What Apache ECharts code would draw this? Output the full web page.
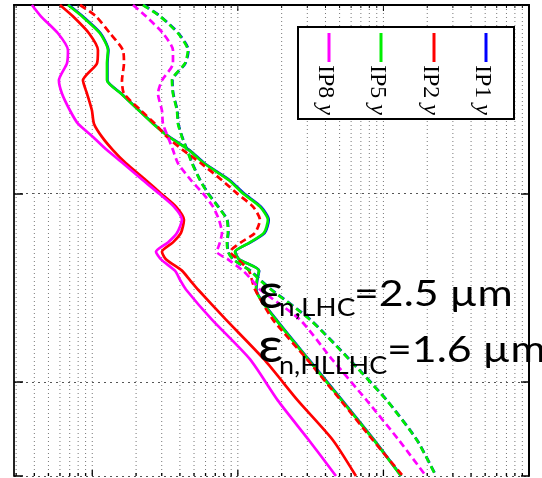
<!DOCTYPE html>
<html>
<head>
<meta charset="utf-8">
<script src="https://cdn.jsdelivr.net/npm/echarts@6/dist/echarts.min.js"></script>
<style>
  html, body { margin: 0; padding: 0; background: #fff; }
  #chart { width: 542px; height: 478px; }
</style>
</head>
<body>
<div id="chart"></div>
<script>
// Vertical positions (independent variable, axis runs top to bottom)
const yLevels = [0, 0.06, 0.15, 0.24, 0.31, 0.40, 0.47, 0.56, 0.63, 0.70, 0.77, 0.84, 0.93, 1.00,
  1.07, 1.14, 1.21, 1.26, 1.31, 1.35, 1.41, 1.46, 1.51, 1.67, 1.88, 2.10, 2.31, 2.50];

// HL-LHC emittance (solid curves)
const ip1Solid = [0.69, 0.86, 1.14, 1.29, 1.27, 1.27, 1.58, 2.10, 2.63, 3.39, 4.65, 5.90, 8.80, 11.0,
  14.4, 16.3, 15.3, 12.2, 9.60, 10.2, 14.0, 13.6, 13.4, 18.4, 30.6, 52.3, 86.5, 132.5];
const ip2Solid = [0.600, 0.736, 0.949, 1.094, 1.077, 0.863, 0.920, 0.995, 1.027, 1.166, 1.387, 1.704, 2.338, 2.964,
  3.757, 4.264, 4.066, 3.584, 3.011, 3.207, 4.130, 4.688, 5.321, 8.287, 15.11, 25.87, 45.01, 64.75];
const ip5Solid = [0.681, 0.850, 1.129, 1.282, 1.262, 1.262, 1.574, 2.093, 2.611, 3.364, 4.614, 5.852, 8.687, 10.84,
  14.19, 16.09, 15.11, 12.11, 9.550, 10.18, 13.96, 13.53, 13.31, 18.27, 30.31, 51.88, 86.09, 131.9];
const ip8Solid = [0.385, 0.444, 0.581, 0.681, 0.670, 0.590, 0.619, 0.703, 0.798, 1.011, 1.262, 1.625, 2.229, 2.872,
  3.640, 4.130, 3.817, 3.311, 2.739, 2.964, 3.698, 4.016, 4.400, 6.638, 12.11, 18.86, 30.79, 47.20];

// LHC emittance (dashed curves)
const ip1Dashed = [2.25, 2.94, 3.91, 4.58, 4.36, 3.55, 3.60, 3.84, 3.90, 4.15, 4.50, 4.87, 5.52, 6.27,
  7.34, 8.46, 8.60, 8.46, 8.60, 9.30, 12.2, 14.3, 17.0, 31.5, 58.3, 106.2, 170.5, 230.0];
const ip2Dashed = [0.824, 1.060, 1.323, 1.625, 1.651, 1.600, 1.651, 2.160, 2.696, 3.258, 4.197, 5.579, 7.778, 9.858,
  12.70, 14.19, 13.10, 10.50, 8.826, 10.02, 11.92, 12.50, 13.10, 17.42, 29.83, 51.07, 84.74, 136.1];
const ip5Dashed = [2.229, 2.917, 3.878, 4.542, 4.332, 3.527, 3.584, 3.817, 3.878, 4.130, 4.471, 4.839, 5.492, 6.232,
  7.300, 8.417, 8.551, 8.417, 8.551, 9.255, 12.11, 14.19, 16.88, 31.28, 57.96, 105.7, 169.9, 229.4];
const ip8Dashed = [1.905, 2.338, 3.059, 3.584, 3.584, 3.011, 2.827, 3.011, 3.059, 3.311, 3.584, 3.878, 4.763, 5.758,
  6.745, 7.418, 7.778, 7.535, 7.187, 8.551, 10.84, 12.50, 14.19, 26.70, 44.30, 77.03, 127.8, 195.9];

// Log-axis grid positions (2..9 within each decade) and decade marks
const gridX = [0.3, 0.4, 0.5, 0.6, 0.7, 0.8, 0.9, 1, 2, 3, 4, 5, 6, 7, 8, 9, 10,
  20, 30, 40, 50, 60, 70, 80, 90, 100, 200, 300, 400, 500, 600, 700, 800, 900];
const decadeX = [1, 10, 100];

const legendNames = ['IP8', 'IP5', 'IP2', 'IP1'];
const legendColors = ['#ff00ff', '#00ee00', '#ff0000', '#0000ff'];

const X_MIN = 0.29, X_MAX = 1000, Y_MIN = 0, Y_MAX = 2.5;

function pairs(xs) { return xs.map((x, i) => [x, yLevels[i]]); }

function curve(name, xs, color, dashed) {
  return {
    name: name, type: 'line', data: pairs(xs), symbol: 'none', silent: true, z: 3,
    smooth: 0.22,
    lineStyle: { color: color, width: 2.7, type: dashed ? [7, 4] : 'solid' },
    animation: false
  };
}

const chart = echarts.init(document.getElementById('chart'), null, { renderer: 'canvas' });

const series = [
  {
    type: 'custom', silent: true, z: 1, animation: false,
    data: gridX.map(v => [v, 0]),
    renderItem: function (params, api) {
      const x = api.value(0);
      const top = api.coord([x, Y_MIN]);
      const bot = api.coord([x, Y_MAX]);
      const tl = decadeX.indexOf(x) >= 0 ? 6 : 3;
      return {
        type: 'group',
        children: [
          { type: 'line', shape: { x1: top[0], y1: top[1], x2: bot[0], y2: bot[1] },
            style: { stroke: '#777', lineWidth: 1, lineDash: [1, 3] } },
          { type: 'line', shape: { x1: bot[0], y1: bot[1], x2: bot[0], y2: bot[1] - tl },
            style: { stroke: '#000', lineWidth: 1.3 } },
          { type: 'line', shape: { x1: top[0], y1: top[1], x2: top[0], y2: top[1] + tl },
            style: { stroke: '#000', lineWidth: 1 } }
        ]
      };
    }
  },
  curve('IP1 y', ip1Solid, '#0000ff', false),
  curve('IP2 y', ip2Solid, '#ff0000', false),
  curve('IP5 y', ip5Solid, '#00ee00', false),
  curve('IP8 y', ip8Solid, '#ff00ff', false),
  curve('IP1 y LHC', ip1Dashed, '#0000ff', true),
  curve('IP2 y LHC', ip2Dashed, '#ff0000', true),
  curve('IP5 y LHC', ip5Dashed, '#00ee00', true),
  curve('IP8 y LHC', ip8Dashed, '#ff00ff', true)
];

// Legend drawn as a boxed, rotated key
const legendGraphics = [
  { type: 'rect', z: 20, shape: { x: 298, y: 27, width: 216, height: 92 },
    style: { fill: '#fff', stroke: '#000', lineWidth: 2 } }
];
const legendX = [329, 381, 434, 486];
legendNames.forEach((n, i) => {
  legendGraphics.push({ type: 'line', z: 21,
    shape: { x1: legendX[i], y1: 33, x2: legendX[i], y2: 62 },
    style: { stroke: legendColors[i], lineWidth: 3 } });
  legendGraphics.push({ type: 'text', z: 21, x: legendX[i] - 4, y: 65, rotation: -Math.PI / 2,
    style: {
      text: '{a|' + n + '}{b|\u00a0y}', align: 'left', verticalAlign: 'middle',
      rich: {
        a: { fontFamily: 'Liberation Serif', fontSize: 24, fill: '#000' },
        b: { fontFamily: 'Liberation Serif', fontStyle: 'italic', fontSize: 24, fill: '#000' }
      }
    } });
});

// Emittance annotations
const font = 'Lato';
const annot = [
  { type: 'text', z: 22, x: 258, y: 293, scaleX: 1.15, style: { text: 'ε', fontFamily: font, fontSize: 48, fill: '#000', align: 'left', verticalAlign: 'middle' } },
  { type: 'text', z: 22, x: 279, y: 308, scaleX: 1.12, style: { text: 'n,LHC', fontFamily: font, fontSize: 25, fill: '#000', align: 'left', verticalAlign: 'middle' } },
  { type: 'text', z: 22, x: 354, y: 294, scaleX: 1.19, style: { text: '=2.5 µm', fontFamily: font, fontSize: 36, fill: '#000', align: 'left', verticalAlign: 'middle' } },
  { type: 'text', z: 22, x: 258, y: 347, scaleX: 1.15, style: { text: 'ε', fontFamily: font, fontSize: 48, fill: '#000', align: 'left', verticalAlign: 'middle' } },
  { type: 'text', z: 22, x: 279, y: 366, scaleX: 1.08, style: { text: 'n,HLLHC', fontFamily: font, fontSize: 25, fill: '#000', align: 'left', verticalAlign: 'middle' } },
  { type: 'text', z: 22, x: 387, y: 350, scaleX: 1.19, style: { text: '=1.6 µm', fontFamily: font, fontSize: 36, fill: '#000', align: 'left', verticalAlign: 'middle' } }
];

chart.setOption({
  animation: false,
  backgroundColor: '#fff',
  grid: { left: 14, right: 13, top: 5, bottom: 2, containLabel: false },
  xAxis: [
    { type: 'log', logBase: 10, min: X_MIN, max: X_MAX, position: 'bottom',
      axisLine: { show: true, lineStyle: { color: '#000', width: 2 } },
      axisTick: { show: false }, axisLabel: { show: false }, splitLine: { show: false } },
    { type: 'log', logBase: 10, min: X_MIN, max: X_MAX, position: 'top',
      axisLine: { show: true, lineStyle: { color: '#000', width: 1.5 } },
      axisTick: { show: false }, axisLabel: { show: false }, splitLine: { show: false } }
  ],
  yAxis: [
    { type: 'value', inverse: true, min: Y_MIN, max: Y_MAX, interval: 1, position: 'left',
      axisLine: { show: true, lineStyle: { color: '#222', width: 2 } },
      axisTick: { show: true, inside: true, length: 9, lineStyle: { color: '#000', width: 1.5 } },
      axisLabel: { show: false },
      splitLine: { show: true, lineStyle: { color: '#555', width: 1, type: [2, 4] } } },
    { type: 'value', inverse: true, min: Y_MIN, max: Y_MAX, interval: 1, position: 'right',
      axisLine: { show: true, lineStyle: { color: '#000', width: 2 } },
      axisTick: { show: true, inside: true, length: 8, lineStyle: { color: '#000', width: 1.5 } },
      axisLabel: { show: false }, splitLine: { show: false } }
  ],
  series: series,
  graphic: legendGraphics.concat(annot)
});
</script>
</body>
</html>
